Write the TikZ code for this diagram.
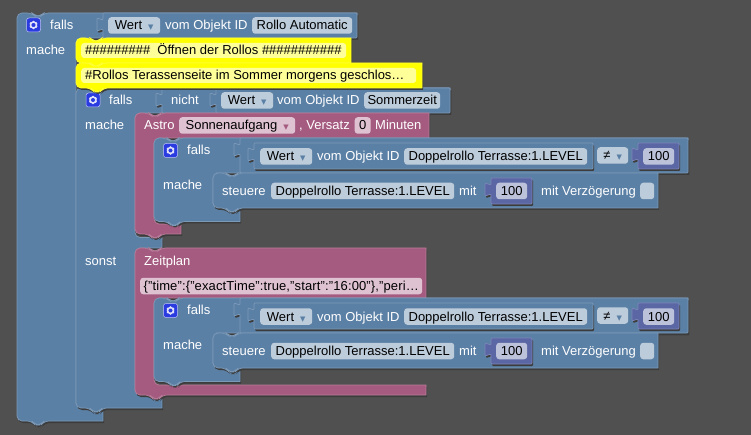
\documentclass[tikz,border=0pt]{standalone}
\usepackage{fontspec}
\setmainfont{Liberation Sans}
\newfontfamily\symfont{DejaVu Sans}
\definecolor{canvasgray}{HTML}{505050}
\definecolor{shadowgray}{HTML}{3C3C3C}
\definecolor{myblue}{HTML}{5B80A5}
\definecolor{mypink}{HTML}{A55B80}
\definecolor{mypurple}{HTML}{5B67A5}
\definecolor{myyellow}{HTML}{FFFF00}
\definecolor{fieldblue}{HTML}{BDCCDB}
\definecolor{fieldpink}{HTML}{DFC2D1}
\definecolor{fieldpurple}{HTML}{BDC2DB}
\definecolor{fieldyellow}{HTML}{FFFF99}
\definecolor{iconblue}{HTML}{2A3BE0}
\newcommand{\topnotch}{-- ++(3,3) -- ++(6,0) -- ++(3,-3)}
\newcommand{\bottomtab}{-- ++(-3,4) -- ++(-6,0) -- ++(-3,-4)}
\newcommand{\valuetab}{-- ++(-6,2) -- ++(0,-13) -- ++(6,2)}
\newcommand{\dropmark}[1]{\hspace{6pt}\textcolor{#1}{\symfont\fontsize{7}{7}\selectfont ▼}}
\tikzset{
	every node/.style={font=\fontsize{13}{15}\selectfont}
}
\tikzset{
	blockshape/.style={
			fill=#1, draw=#1!80!white, line width=0.7pt,
			preaction={draw=none, fill=shadowgray, transform canvas={shift={(1pt,-2pt)}}}
		}
}
\tikzset{
	blocktext/.style={text=white, anchor=west, inner sep=0, text height=10pt, text depth=1pt}
}
\tikzset{
	fieldbox/.style={fill=#1, text=black, rounded corners=3, anchor=west, inner sep=0,
			minimum height=16.5, text height=10pt, text depth=1pt}
}
\tikzset{
	iconbox/.style={fill=iconblue, draw=white!70!iconblue, rounded corners=2.5, line width=0.5pt,
			minimum width=14, minimum height=14, inner sep=0}
}
\tikzset{
	gearicon/.pic={
			\node[iconbox] (-box) at (0,0) {};
			\draw[white!85!iconblue, line width=1.5pt] (0,0) circle (3);
			\foreach \a in {30,90,...,330} {
					\fill[white!85!iconblue] (\a:3.2) circle (1.2);
				}
		}
}
\tikzset{
	fallsblock/.pic={
			\draw[blockshape=myblue] (0,14) [rounded corners=5] -- (0,0) -- (13,0) \topnotch [sharp corners] -- (534,0) -- (534,35) -- (62,35) [rounded corners=5] -- (59,35) -- (59,70) [sharp corners] -- (86,70) -- (86,83.5) [rounded corners=5] -- (26,83.5) \bottomtab -- (0,83.5) -- cycle;
			\pic at (16.5,12.5) {gearicon};
			\node[blocktext] (-falls) at (33,12) {falls};
			\node[blocktext] (-mache) at (9,47) {mache};

			\draw[blockshape=myblue, rounded corners=1] (86,35) -- (86,16) \valuetab -- (86,0) -- (534,0) -- (534,35) -- cycle;
			\draw[blockshape=myblue, rounded corners=1] (100,31) -- (100,21) \valuetab -- (100,5) -- (439,5) -- (439,31) -- cycle;
			\node[fieldbox=fieldblue, minimum width=52] (-wert) at (106,18.5) {Wert\dropmark{myblue}};
			\node[blocktext] (-vom) at (163,18.5) {vom Objekt ID};
			\node[fieldbox=fieldblue, minimum width=183] (-id) at (250,18.5) {Doppelrollo Terrasse:1.LEVEL};
			\node[fieldbox=fieldblue, minimum width=31] (-ne) at (443,17.5) {≠\dropmark{myblue}};
			\draw[blockshape=mypurple, rounded corners=1] (484,31) -- (484,21) \valuetab -- (484,5) -- (525,5) -- (525,31) -- cycle;
			\node[fieldbox=fieldpurple, minimum width=31] (-wertb) at (489,18.5) {100};

			\draw[blockshape=myblue] (59,45) [rounded corners=5] -- (59,35) -- (72,35) \topnotch [sharp corners] -- (504,35) -- (504,70) [rounded corners=5] -- (84,70) \bottomtab -- (59,70) -- cycle;
			\node[blocktext] (-steuere) at (68,53) {steuere};
			\node[fieldbox=fieldblue, minimum width=183] (-ziel) at (117,53) {Doppelrollo Terrasse:1.LEVEL};
			\node[blocktext] (-mit) at (305,53) {mit};
			\draw[blockshape=mypurple, rounded corners=1] (337,66) -- (337,56) \valuetab -- (337,40) -- (378,40) -- (378,66) -- cycle;
			\node[fieldbox=fieldpurple, minimum width=31] (-wertc) at (342,53) {100};
			\node[blocktext] (-delay) at (387,53) {mit Verzögerung};
			\node[fieldbox=fieldblue, minimum width=14] (-check) at (486,53) {};
		}
}

\begin{document}
\begin{tikzpicture}[x=1pt, y=-1pt]

	\useasboundingbox (0,0) rectangle (751,435);
	\fill[canvasgray] (0,0) rectangle (751,435);

	\begin{scope}
		\draw[blockshape=myblue] (17,30) [rounded corners=5] -- (17,13) -- (32,13) \topnotch [sharp corners] -- (357,13) -- (357,38) -- (80,38) [rounded corners=5] -- (76,38) -- (76,408) [sharp corners] -- (103,408) -- (103,421) [rounded corners=5] -- (44,421) \bottomtab -- (17,421) -- cycle;
		\pic at (33.5,25) {gearicon};
		\node[blocktext] (falls0) at (50,25) {falls};
		\node[blocktext] (mache0) at (26,50) {mache};

		\draw[blockshape=myblue, rounded corners=1] (103,38) -- (103,29) \valuetab -- (103,13) -- (357,13) -- (357,38) -- cycle;
		\node[fieldbox=fieldblue, minimum width=52] (wert0) at (108,25.5) {Wert\dropmark{myblue}};
		\node[blocktext] (vom0) at (165,25.5) {vom Objekt ID};
		\node[fieldbox=fieldblue, minimum width=100] (auto) at (252,25.5) {Rollo Automatic};
	\end{scope}

	\begin{scope}
		\draw[blockshape=myblue] (76,100) [rounded corners=5] -- (76,88) -- (90,88) \topnotch [sharp corners] -- (450,88) -- (450,113) -- (140,113) [rounded corners=5] -- (135,113) -- (135,237.5) [sharp corners] -- (162,237.5) -- (162,248) -- (140,248) [rounded corners=5] -- (135,248) -- (135,395) [sharp corners] -- (162,395) -- (162,408) [rounded corners=5] -- (102,408) \bottomtab -- (76,408) -- cycle;
		\pic at (93,100) {gearicon};
		\node[blocktext] (falls1) at (109,100) {falls};
		\node[blocktext] (mache1) at (85,125) {mache};
		\node[blocktext] (sonst) at (85,261) {sonst};

		\draw[blockshape=myblue, rounded corners=1] (162,113) -- (162,104) \valuetab -- (162,88) -- (450,88) -- (450,113) -- cycle;
		\node[blocktext] (nicht) at (171,100.5) {nicht};
		\draw[blockshape=myblue, rounded corners=1] (216,113) -- (216,104) \valuetab -- (216,88) -- (450,88) -- (450,113) -- cycle;
		\node[fieldbox=fieldblue, minimum width=52] (wert1) at (221,100.5) {Wert\dropmark{myblue}};
		\node[blocktext] (vom1) at (277,100.5) {vom Objekt ID};
		\node[fieldbox=fieldblue, minimum width=76] (sommer) at (364,100.5) {Sommerzeit};
	\end{scope}

	\begin{scope}
		\draw[blockshape=myyellow] (76,50) [rounded corners=5] -- (76,38) -- (90,38) \topnotch [sharp corners] -- (351,38) -- (351,63) [rounded corners=5] -- (103,63) \bottomtab -- (76,63) -- cycle;
		\node[fieldbox=fieldyellow, minimum width=265, minimum height=15] (note1) at (81,50.5) {};
		\node[blocktext, text=black] (text1) at (85,50.5) {\#\#\#\#\#\#\#\#\#\ \ Öffnen der Rollos \#\#\#\#\#\#\#\#\#\#\#};

		\draw[blockshape=myyellow] (76,75) [rounded corners=5] -- (76,63) -- (90,63) \topnotch [sharp corners] -- (422,63) -- (422,88) [rounded corners=5] -- (103,88) \bottomtab -- (76,88) -- cycle;
		\node[fieldbox=fieldyellow, minimum width=335, minimum height=15] (note2) at (81,75.5) {};
		\node[blocktext, text=black] (text2) at (85,75.5) {\#Rollos Terassenseite im Sommer morgens geschlos…};
	\end{scope}

	\begin{scope}
		\draw[blockshape=mypink] (135,125) [rounded corners=5] -- (135,113) -- (149,113) \topnotch [sharp corners] -- (429,113) -- (429,138) -- (158,138) [rounded corners=5] -- (154,138) -- (154,224) [sharp corners] -- (181,224) -- (181,234) [rounded corners=5] -- (161,234) \bottomtab -- (135,234) -- cycle;
		\node[blocktext] (astro) at (144,125.5) {Astro};
		\node[fieldbox=fieldpink, minimum width=116] (sonne) at (179,125.5) {Sonnenaufgang\dropmark{mypink}};
		\node[blocktext] (versatz) at (299,125.5) {, Versatz};
		\node[fieldbox=fieldpink, minimum width=16] (null) at (354.5,125.5) {0};
		\node[blocktext] (minuten) at (375,125.5) {Minuten};

		\pic (fa) at (154,138) {fallsblock};
	\end{scope}

	\begin{scope}
		\draw[blockshape=mypink] (135,260) [rounded corners=5] -- (135,248) -- (149,248) \topnotch [sharp corners] -- (426,248) -- (426,298) -- (158,298) [rounded corners=5] -- (154,298) -- (154,385) [sharp corners] -- (426,385) -- (426,395) [rounded corners=5] -- (162,395) \bottomtab -- (135,395) -- cycle;
		\node[blocktext] (zeitplan) at (144,261) {Zeitplan};
		\node[fieldbox=fieldpink, minimum width=282] (zeit) at (140,286) {\addfontfeature{LetterSpace=1}\{"time":\{"exactTime":true,"start":"16:00"\},"peri…};

		\pic (fb) at (154,298) {fallsblock};
	\end{scope}

\end{tikzpicture}
\end{document}
